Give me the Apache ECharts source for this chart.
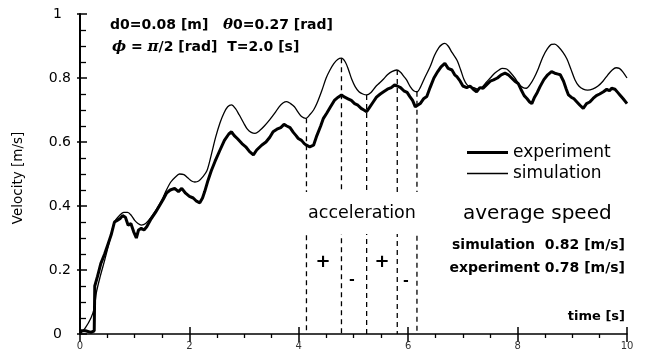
<!DOCTYPE html>
<html><head><meta charset="utf-8">
<script src="https://cdn.jsdelivr.net/npm/echarts@6/dist/echarts.min.js"></script>
<style>html,body{margin:0;padding:0;background:#fff}#c{width:646px;height:360px}</style>
</head><body><div id="c"></div>
<script>
var xTicks = [0, 2, 4, 6, 8, 10];
var yTicks = [0, 0.2, 0.4, 0.6, 0.8, 1];
var experiment = [[0,0.01],[0.1,0.01],[0.2,0.005],[0.26,0.01],[0.27,0.15],[0.32,0.18],[0.38,0.22],[0.45,0.25],[0.51,0.28],[0.57,0.31],[0.63,0.35],[0.68,0.355],[0.73,0.36],[0.78,0.37],[0.83,0.365],[0.88,0.34],[0.93,0.345],[0.98,0.32],[1.03,0.30],[1.07,0.325],[1.12,0.33],[1.17,0.325],[1.22,0.335],[1.30,0.36],[1.38,0.38],[1.45,0.40],[1.52,0.42],[1.58,0.44],[1.65,0.45],[1.73,0.455],[1.80,0.445],[1.86,0.455],[1.93,0.44],[2.0,0.43],[2.07,0.425],[2.13,0.415],[2.19,0.41],[2.24,0.425],[2.28,0.445],[2.34,0.48],[2.40,0.51],[2.47,0.54],[2.56,0.575],[2.64,0.605],[2.72,0.625],[2.77,0.632],[2.82,0.62],[2.88,0.61],[2.96,0.595],[3.03,0.585],[3.10,0.57],[3.17,0.56],[3.23,0.575],[3.32,0.59],[3.40,0.60],[3.47,0.615],[3.53,0.632],[3.60,0.64],[3.67,0.645],[3.73,0.655],[3.78,0.65],[3.84,0.645],[3.90,0.63],[3.95,0.62],[3.99,0.611],[4.05,0.605],[4.10,0.595],[4.14,0.59],[4.2,0.585],[4.27,0.59],[4.33,0.62],[4.40,0.65],[4.45,0.674],[4.51,0.69],[4.58,0.71],[4.65,0.73],[4.72,0.74],[4.78,0.747],[4.84,0.74],[4.90,0.735],[4.96,0.73],[5.02,0.72],[5.08,0.715],[5.14,0.705],[5.19,0.70],[5.24,0.695],[5.30,0.71],[5.36,0.725],[5.42,0.74],[5.49,0.75],[5.55,0.757],[5.62,0.765],[5.69,0.77],[5.75,0.778],[5.80,0.775],[5.86,0.77],[5.92,0.76],[5.98,0.755],[6.03,0.742],[6.08,0.73],[6.13,0.71],[6.16,0.705],[6.22,0.72],[6.28,0.735],[6.34,0.742],[6.40,0.77],[6.47,0.80],[6.54,0.82],[6.60,0.835],[6.67,0.846],[6.73,0.83],[6.80,0.825],[6.85,0.81],[6.89,0.804],[6.95,0.79],[7.00,0.775],[7.07,0.77],[7.13,0.775],[7.19,0.765],[7.25,0.757],[7.31,0.77],[7.37,0.768],[7.44,0.78],[7.50,0.79],[7.56,0.794],[7.63,0.80],[7.70,0.81],[7.77,0.815],[7.83,0.81],[7.89,0.80],[7.95,0.79],[8.01,0.783],[8.06,0.765],[8.12,0.745],[8.17,0.736],[8.22,0.725],[8.26,0.72],[8.31,0.74],[8.36,0.755],[8.41,0.773],[8.48,0.795],[8.55,0.81],[8.62,0.82],[8.68,0.815],[8.74,0.812],[8.78,0.81],[8.84,0.79],[8.89,0.765],[8.93,0.747],[8.98,0.74],[9.03,0.735],[9.08,0.726],[9.14,0.715],[9.20,0.705],[9.26,0.72],[9.32,0.725],[9.38,0.736],[9.44,0.745],[9.50,0.75],[9.57,0.757],[9.63,0.765],[9.68,0.76],[9.72,0.768],[9.78,0.765],[9.83,0.755],[9.87,0.747],[9.93,0.735],[10.0,0.72]];
var simulation = [[0,0],[0.1,0.02],[0.2,0.05],[0.26,0.08],[0.30,0.13],[0.37,0.18],[0.45,0.23],[0.54,0.29],[0.63,0.35],[0.72,0.37],[0.80,0.38],[0.87,0.38],[0.94,0.37],[1.00,0.355],[1.06,0.345],[1.12,0.34],[1.20,0.345],[1.30,0.365],[1.40,0.39],[1.50,0.42],[1.58,0.45],[1.66,0.475],[1.74,0.49],[1.82,0.50],[1.90,0.498],[1.97,0.488],[2.04,0.478],[2.10,0.475],[2.17,0.478],[2.24,0.49],[2.32,0.51],[2.40,0.56],[2.48,0.615],[2.56,0.66],[2.63,0.69],[2.70,0.71],[2.77,0.716],[2.84,0.705],[2.91,0.685],[2.99,0.66],[3.06,0.64],[3.13,0.63],[3.20,0.627],[3.28,0.635],[3.37,0.65],[3.47,0.67],[3.56,0.69],[3.64,0.71],[3.71,0.722],[3.78,0.726],[3.85,0.72],[3.92,0.71],[3.98,0.695],[4.05,0.68],[4.13,0.674],[4.20,0.685],[4.27,0.70],[4.33,0.72],[4.42,0.76],[4.50,0.80],[4.57,0.825],[4.64,0.845],[4.71,0.858],[4.78,0.862],[4.85,0.85],[4.91,0.825],[4.97,0.795],[5.03,0.773],[5.10,0.757],[5.17,0.75],[5.24,0.747],[5.32,0.755],[5.40,0.772],[5.48,0.785],[5.55,0.797],[5.62,0.81],[5.70,0.82],[5.79,0.825],[5.86,0.818],[5.92,0.805],[5.97,0.794],[6.04,0.772],[6.10,0.76],[6.16,0.757],[6.22,0.77],[6.30,0.80],[6.40,0.835],[6.48,0.87],[6.56,0.895],[6.62,0.905],[6.67,0.908],[6.73,0.90],[6.80,0.88],[6.89,0.856],[6.96,0.825],[7.02,0.795],[7.07,0.78],[7.13,0.772],[7.20,0.77],[7.27,0.765],[7.34,0.77],[7.42,0.785],[7.50,0.80],[7.58,0.815],[7.66,0.825],[7.72,0.83],[7.80,0.828],[7.88,0.815],[7.95,0.80],[8.03,0.78],[8.10,0.77],[8.16,0.768],[8.23,0.78],[8.30,0.80],[8.38,0.83],[8.46,0.865],[8.54,0.89],[8.62,0.905],[8.68,0.906],[8.75,0.897],[8.83,0.88],[8.90,0.86],[8.97,0.83],[9.05,0.794],[9.12,0.775],[9.20,0.765],[9.28,0.762],[9.38,0.766],[9.47,0.775],[9.56,0.79],[9.65,0.81],[9.73,0.825],[9.80,0.832],[9.86,0.83],[9.92,0.82],[10,0.80]];
var dashX = [4.14, 4.78, 5.24, 5.80, 6.16];
var dashTop = [0.674, 0.862, 0.747, 0.825, 0.757];

var chart = echarts.init(document.getElementById('c'), null, {renderer: 'canvas'});
var F = 'DejaVu Sans';
var series = [
  {name: 'experiment', type: 'line', data: experiment, symbol: 'none', smooth: false,
   lineStyle: {color: '#000', width: 3}, itemStyle: {color: '#000'}, z: 4},
  {name: 'simulation', type: 'line', data: simulation, symbol: 'none', smooth: 0.3,
   lineStyle: {color: '#000', width: 1.3}, itemStyle: {color: '#000'}, z: 3}
];
dashX.forEach(function (x, i) {
  series.push({type: 'line', data: [[x, dashTop[i]], [x, 0]], symbol: 'none', silent: true,
    lineStyle: {color: '#000', width: 1.3, type: [5, 4]}, z: 2});
});
function yFmt(v) { return (v === 0 || v === 1) ? '{p|' + v + '}' : String(v); }
var option = {
  animation: false,
  backgroundColor: '#fff',
  grid: {left: 80, right: 19, top: 14, bottom: 26, containLabel: false},
  xAxis: [
    {type: 'value', min: 0, max: 10, interval: 2,
     axisLine: {show: true, lineStyle: {color: '#000', width: 1.5}},
     axisTick: {show: true, inside: false, length: 8, lineStyle: {color: '#000', width: 1.5}},
     minorTick: {show: true, splitNumber: 4, length: 4, lineStyle: {color: '#000', width: 1.3}},
     splitLine: {show: false},
     axisLabel: {show: true, color: '#333', fontFamily: F, fontSize: 10, margin: 7,
       formatter: function (v) { return xTicks.indexOf(v) >= 0 ? String(v) : ''; }}},
    {type: 'value', min: 0, max: 10, interval: 2, position: 'bottom',
     axisLine: {show: false}, axisLabel: {show: false}, splitLine: {show: false},
     axisTick: {show: true, inside: true, length: 7, lineStyle: {color: '#000', width: 1.5}}}
  ],
  yAxis: [
    {type: 'value', min: 0, max: 1, interval: 0.2,
     axisLine: {show: true, lineStyle: {color: '#000', width: 2}},
     axisTick: {show: true, inside: true, length: 7, lineStyle: {color: '#000', width: 1.5}},
     minorTick: {show: true, splitNumber: 4, length: 6, lineStyle: {color: '#000', width: 1.3}},
     splitLine: {show: false},
     axisLabel: {show: true, color: '#000', fontFamily: F, fontSize: 14, margin: 9,
       formatter: yFmt, rich: {p: {fontFamily: F, fontSize: 14, color: '#000', padding: [0, 9, 0, 0]}}}},
    {type: 'value', min: 0, max: 1, interval: 0.2, position: 'left',
     axisLine: {show: false}, axisLabel: {show: false}, splitLine: {show: false},
     axisTick: {show: true, inside: false, length: 3, lineStyle: {color: '#000', width: 1.5}}}
  ],
  legend: [
    {data: ['experiment'], left: 462, top: 139, icon: 'rect', itemWidth: 41, itemHeight: 3, itemGap: 0,
     textStyle: {fontFamily: F, fontSize: 17, color: '#000', padding: [0, 0, 0, 0]}, selectedMode: false},
    {data: ['simulation'], left: 462, top: 160, icon: 'rect', itemWidth: 41, itemHeight: 1.3, itemGap: 0,
     textStyle: {fontFamily: F, fontSize: 17, color: '#000'}, selectedMode: false}
  ],
  series: series,
  graphic: [
    {type: 'text', x: 110, y: 25, z: 100, style: {text: '{a|d0=0.08 [m]   }{i|θ}{a|0=0.27 [rad]}',
      rich: {a: {font: 'bold 14px "DejaVu Sans"', fill: '#000'}, i: {font: 'italic bold 15px "DejaVu Serif"', fill: '#000'}},
      verticalAlign: 'middle', textVerticalAlign: 'middle'}},
    {type: 'text', x: 112, y: 47, z: 100, style: {text: '{i|ϕ}{a| = }{i|π}{a|/2 [rad]  T=2.0 [s]}',
      rich: {a: {font: 'bold 14px "DejaVu Sans"', fill: '#000'}, i: {font: 'italic bold 15px "DejaVu Serif"', fill: '#000'}},
      verticalAlign: 'middle', textVerticalAlign: 'middle'}},
    {type: 'text', x: 18, y: 178, rotation: Math.PI / 2, z: 100, style: {text: 'Velocity [m/s]',
      font: '13.5px "DejaVu Sans"', fill: '#000', align: 'center', verticalAlign: 'middle', textAlign: 'center', textVerticalAlign: 'middle'}},
    {type: 'text', x: 362, y: 213, z: 100, style: {text: 'acceleration', font: '17.5px "DejaVu Sans"', fill: '#000',
      align: 'center', verticalAlign: 'middle', textAlign: 'center', textVerticalAlign: 'middle',
      backgroundColor: '#fff', padding: [12, 5, 12, 5]}},
    {type: 'text', x: 463, y: 214, z: 100, style: {text: 'average speed', font: '20px "DejaVu Sans"', fill: '#000',
      verticalAlign: 'middle', textVerticalAlign: 'middle'}},
    {type: 'text', x: 625, y: 245, z: 100, style: {text: 'simulation  0.82 [m/s]', font: 'bold 14px "DejaVu Sans"', fill: '#000',
      align: 'right', verticalAlign: 'middle', textAlign: 'right', textVerticalAlign: 'middle'}},
    {type: 'text', x: 625, y: 268, z: 100, style: {text: 'experiment 0.78 [m/s]', font: 'bold 14px "DejaVu Sans"', fill: '#000',
      align: 'right', verticalAlign: 'middle', textAlign: 'right', textVerticalAlign: 'middle'}},
    {type: 'text', x: 625, y: 317, z: 100, style: {text: 'time [s]', font: 'bold 13px "DejaVu Sans"', fill: '#000',
      align: 'right', verticalAlign: 'middle', textAlign: 'right', textVerticalAlign: 'middle'}},
    {type: 'text', x: 323, y: 262, z: 100, style: {text: '+', font: 'bold 18px "DejaVu Sans"', fill: '#000',
      align: 'center', verticalAlign: 'middle', textAlign: 'center', textVerticalAlign: 'middle'}},
    {type: 'text', x: 382, y: 262, z: 100, style: {text: '+', font: 'bold 18px "DejaVu Sans"', fill: '#000',
      align: 'center', verticalAlign: 'middle', textAlign: 'center', textVerticalAlign: 'middle'}},
    {type: 'text', x: 352, y: 280, z: 100, style: {text: '-', font: 'bold 14px "DejaVu Sans"', fill: '#000',
      align: 'center', verticalAlign: 'middle', textAlign: 'center', textVerticalAlign: 'middle'}},
    {type: 'text', x: 406, y: 281, z: 100, style: {text: '-', font: 'bold 14px "DejaVu Sans"', fill: '#000',
      align: 'center', verticalAlign: 'middle', textAlign: 'center', textVerticalAlign: 'middle'}}
  ]
};
chart.setOption(option);
</script></body></html>
